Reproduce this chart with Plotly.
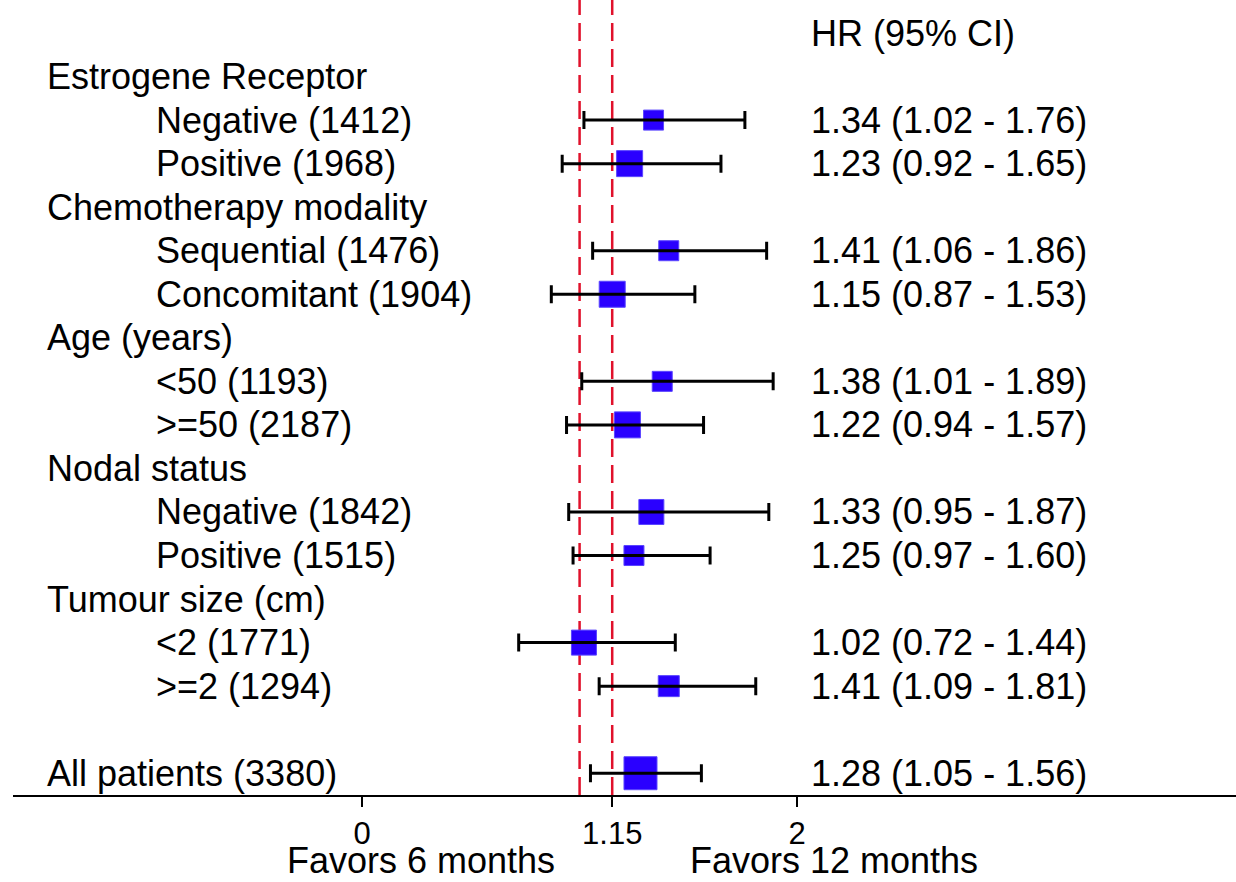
import plotly.graph_objects as go

# ---------------- data ----------------
group_headers = ["Estrogene Receptor", "Chemotherapy modality", "Age (years)",
                 "Nodal status", "Tumour size (cm)"]
header_rows = [1, 4, 7, 10, 13]

subgroup_labels = ["Negative (1412)", "Positive (1968)",
                   "Sequential (1476)", "Concomitant (1904)",
                   "<50 (1193)", ">=50 (2187)",
                   "Negative (1842)", "Positive (1515)",
                   "<2 (1771)", ">=2 (1294)",
                   "All patients (3380)"]
subgroup_rows = [2, 3, 5, 6, 8, 9, 11, 12, 14, 15, 17]
hr = [1.34, 1.23, 1.41, 1.15, 1.38, 1.22, 1.33, 1.25, 1.02, 1.41, 1.28]
ci_low = [1.02, 0.92, 1.06, 0.87, 1.01, 0.94, 0.95, 0.97, 0.72, 1.09, 1.05]
ci_high = [1.76, 1.65, 1.86, 1.53, 1.89, 1.57, 1.87, 1.60, 1.44, 1.81, 1.56]

ref_lines = [1.0, 1.15]
tick_vals = [0, 1.15, 2]
tick_text = ["0", "1.15", "2"]

# ---------------- styles ----------------
marker_px = [20, 26, 20, 26, 20, 26, 25, 20, 25, 21, 33]
FONT = "Liberation Sans, Arial, sans-serif"
FS = 36
BLUE = "#2a00ff"
RED = "#e0112b"

x_header = -1.46
x_sub = -0.957
x_all = -1.46
x_hr = 2.055


def esc(s):
    return s.replace("&", "&amp;").replace("<", "&lt;").replace(">", "&gt;")


fig = go.Figure()

# reference lines
for xv in ref_lines:
    fig.add_shape(type="line", x0=xv, x1=xv, xref="x", y0=0, y1=1, yref="paper",
                  line=dict(color=RED, width=2.5, dash="18px,8px"), layer="below")

# markers
fig.add_trace(go.Scatter(
    x=hr, y=subgroup_rows, mode="markers",
    marker=dict(symbol="square", size=marker_px, color=BLUE, opacity=1,
                line=dict(color="#5a45ff", width=1)),
    hoverinfo="skip", showlegend=False))

# CI bars on top of the markers
fig.add_trace(go.Scatter(
    x=hr, y=subgroup_rows, mode="markers",
    marker=dict(size=1, color="rgba(0,0,0,0)"),
    error_x=dict(type="data", symmetric=False,
                 array=[h - e for e, h in zip(hr, ci_high)],
                 arrayminus=[e - l for e, l in zip(hr, ci_low)],
                 color="black", thickness=3, width=9),
    hoverinfo="skip", showlegend=False))

annotations = []
for lab, r in zip(group_headers, header_rows):
    annotations.append(dict(x=x_header, y=r, xref="x", yref="y", text=esc(lab),
                            showarrow=False, xanchor="left", yanchor="middle"))
for i, (lab, r) in enumerate(zip(subgroup_labels, subgroup_rows)):
    xx = x_all if lab.startswith("All") else x_sub
    annotations.append(dict(x=xx, y=r, xref="x", yref="y", text=esc(lab),
                            showarrow=False, xanchor="left", yanchor="middle"))
    annotations.append(dict(x=x_hr, y=r, xref="x", yref="y",
                            text=f"{hr[i]:.2f} ({ci_low[i]:.2f} - {ci_high[i]:.2f})",
                            showarrow=False, xanchor="left", yanchor="middle"))
annotations.append(dict(x=x_hr, y=0, xref="x", yref="y", text="HR (95% CI)",
                        showarrow=False, xanchor="left", yanchor="middle"))
annotations.append(dict(x=0.27, y=-0.1094, xref="x", yref="paper", text="Favors 6 months",
                        showarrow=False, xanchor="center", yanchor="bottom", borderpad=0))
annotations.append(dict(x=2.17, y=-0.1094, xref="x", yref="paper", text="Favors 12 months",
                        showarrow=False, xanchor="center", yanchor="bottom", borderpad=0))

fig.update_layout(
    width=1236, height=882,
    margin=dict(l=13, r=0, t=0, b=87),
    paper_bgcolor="white", plot_bgcolor="white",
    font=dict(family=FONT, size=FS, color="black"),
    annotations=annotations,
    showlegend=False,
    xaxis=dict(range=[-1.605, 4.018], tickvals=tick_vals, ticktext=tick_text,
               ticks="outside", ticklen=10, tickwidth=1.5, tickcolor="black",
               showline=True, linecolor="black", linewidth=1.5,
               showgrid=False, zeroline=False, tickfont=dict(size=31),
               fixedrange=True),
    yaxis=dict(range=[17.5, -0.758], showticklabels=False, showgrid=False,
               zeroline=False, showline=False, fixedrange=True),
)

fig.write_html("out.html", config={"displayModeBar": False},
               post_script="document.body.style.margin='0';")
